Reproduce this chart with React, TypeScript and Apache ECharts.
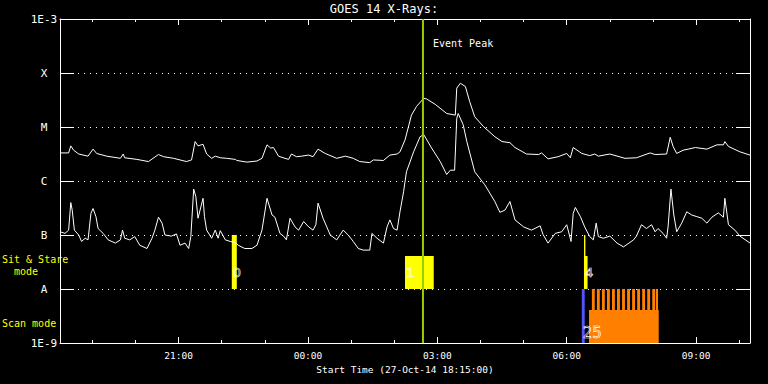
import React, { useEffect, useRef } from 'react';
import * as echarts from 'echarts';

// ---- texts ----
const TITLE = 'GOES 14 X-Rays:';
const X_NAME = 'Start Time (27-Oct-14 18:15:00)';
const EVENT_TEXT = 'Event Peak';
const SIT_STARE_TEXT = 'Sit & Stare\n  mode';
const SCAN_TEXT = 'Scan mode';

// ---- axes (x: minutes since 27-Oct-14 18:15:00, y: log10 flux) ----
const X_MIN = 0;
const X_MAX = 960;
const hourTickValues = [45, 105, 165, 225, 285, 345, 405, 465, 525, 585, 645, 705, 765, 825, 885, 945];
const xLabelValues = [165, 345, 525, 705, 885];
const xTickLabels = ['21:00', '00:00', '03:00', '06:00', '09:00'];
const yTickValues = [-9, -8, -7, -6, -5, -4, -3];
const yTickLabels = ['1E-9', 'A', 'B', 'C', 'M', 'X', '1E-3'];

// ---- GOES X-ray channels: [minutes, log10 flux] ----
const longChannel = [
  [0, -5.48], [12, -5.48], [15, -5.35], [19, -5.43], [26, -5.5], [39, -5.54], [46, -5.41], [51, -5.49],
  [65, -5.54], [84, -5.58], [88, -5.5], [90, -5.57], [107, -5.6], [123, -5.64], [137, -5.51], [144, -5.55],
  [158, -5.58], [176, -5.64], [183, -5.61], [188, -5.27], [192, -5.35], [199, -5.32], [204, -5.5], [211, -5.58],
  [216, -5.54], [223, -5.57], [232, -5.58], [244, -5.6], [246, -5.62], [260, -5.65], [274, -5.63], [281, -5.58],
  [288, -5.33], [293, -5.39], [297, -5.38], [304, -5.54], [313, -5.58], [318, -5.6], [322, -5.5], [329, -5.55],
  [336, -5.54], [346, -5.52], [352, -5.55], [359, -5.41], [369, -5.49], [385, -5.58], [397, -5.54], [408, -5.58],
  [417, -5.64], [431, -5.66], [436, -5.61], [450, -5.62], [459, -5.52], [469, -5.5], [473, -5.46], [480, -5.24],
  [489, -4.78], [496, -4.62], [506, -4.47], [510, -4.48], [522, -4.58], [538, -4.75], [550, -4.78], [552, -4.28],
  [557, -4.19], [564, -4.25], [570, -4.53], [577, -4.81], [589, -4.99], [605, -5.18], [615, -5.27], [626, -5.29],
  [633, -5.38], [649, -5.5], [666, -5.51], [670, -5.48], [679, -5.59], [693, -5.55], [705, -5.49], [710, -5.57],
  [714, -5.38], [726, -5.49], [737, -5.53], [744, -5.5], [749, -5.54], [765, -5.5], [786, -5.58], [802, -5.57],
  [821, -5.48], [828, -5.51], [844, -5.5], [849, -5.19], [853, -5.36], [858, -5.49], [867, -5.43], [884, -5.38],
  [900, -5.41], [914, -5.33], [923, -5.33], [925, -5.27], [930, -5.36], [946, -5.46], [960, -5.52],
];

const shortChannel = [
  [0, -6.94], [7, -6.97], [12, -6.91], [15, -6.4], [17, -6.54], [20, -6.91], [26, -7.0], [30, -7.12],
  [35, -7.06], [39, -7.09], [43, -6.6], [46, -6.51], [50, -6.66], [53, -6.88], [60, -6.97], [67, -7.09],
  [77, -7.15], [84, -7.09], [87, -6.91], [90, -7.06], [97, -7.09], [104, -7.03], [111, -7.19], [121, -7.25],
  [128, -7.06], [132, -6.91], [137, -6.67], [142, -6.78], [146, -7.0], [155, -7.02], [162, -6.98], [167, -7.19],
  [174, -7.15], [179, -7.25], [182, -7.03], [186, -6.15], [189, -6.29], [192, -6.69], [199, -6.32], [201, -6.66],
  [204, -6.91], [211, -7.06], [216, -6.91], [220, -7.06], [223, -6.92], [230, -7.09], [237, -7.12], [244, -7.14],
  [248, -7.19], [257, -7.25], [267, -7.25], [274, -7.19], [281, -6.91], [288, -6.32], [295, -6.63], [299, -6.67],
  [306, -6.97], [311, -7.02], [315, -7.09], [320, -6.69], [327, -6.85], [332, -6.91], [339, -6.75], [346, -6.85],
  [352, -6.91], [356, -6.81], [359, -6.41], [366, -6.69], [376, -7.0], [385, -7.09], [394, -6.91], [401, -7.0],
  [408, -7.12], [415, -7.25], [422, -7.28], [431, -7.28], [434, -6.97], [441, -7.06], [450, -7.15], [455, -6.85],
  [459, -6.72], [464, -6.88], [469, -6.91], [473, -6.57], [478, -6.2], [482, -5.83], [492, -5.46], [501, -5.18],
  [506, -5.14], [517, -5.39], [529, -5.64], [538, -5.88], [543, -5.8], [549, -5.8], [552, -4.84], [554, -4.75],
  [561, -4.96], [566, -5.27], [577, -5.83], [591, -6.07], [605, -6.38], [612, -6.58], [619, -6.54], [626, -6.38],
  [633, -6.72], [645, -6.85], [656, -6.91], [668, -6.83], [672, -6.99], [679, -7.15], [689, -6.97], [698, -6.94],
  [705, -6.81], [711, -7.12], [714, -6.6], [717, -6.49], [724, -6.66], [730, -6.85], [737, -7.03], [742, -7.09],
  [746, -6.78], [749, -7.03], [756, -7.06], [765, -7.02], [775, -7.15], [784, -7.22], [798, -7.09], [802, -7.02],
  [809, -6.81], [816, -6.88], [823, -6.81], [828, -6.94], [832, -6.88], [839, -6.97], [844, -7.06], [846, -6.85],
  [850, -6.15], [854, -6.63], [858, -6.94], [865, -6.78], [872, -6.57], [879, -6.63], [886, -6.66], [893, -6.69],
  [900, -6.78], [907, -6.67], [916, -6.59], [923, -6.67], [925, -6.32], [930, -6.81], [939, -6.91], [946, -7.02],
  [960, -7.15],
];

// ---- event peak ----
const eventPeakTime = 505;

// ---- Sit & Stare observations (band between A and B) ----
const SIT_STARE_BASE = -8;
const sitStareStart = [239, 480, 729, 729];
const sitStareEnd = [246, 520, 734, 731];
const sitStareTop = [-7, -7.39, -7.39, -7];
const sitStareId = ['0', '1', '4', ''];

// ---- Scan mode observations (band between 1E-9 and A) ----
const SCAN_BASE = -9;
const scanStart = [726];
const scanEnd = [730];
const scanTop = [-8];
const scanId = ['25'];
const scanFrameStart = [736, 740, 747, 754, 761, 768, 775, 782, 789, 796, 803, 810, 817, 824, 829];
const scanFrameEnd = [833, 744, 751, 758, 765, 772, 779, 786, 793, 800, 807, 814, 821, 828, 832];
const scanFrameTop = [-8.39, -8, -8, -8, -8, -8, -8, -8, -8, -8, -8, -8, -8, -8, -8];

const FONT = 'DejaVu Sans Mono';
const WHITE = '#ffffff';
const YELLOW = '#ffff00';
const ORANGE = '#ff8000';
const BLUE = '#5555ff';
const GREEN = '#99cc00';

function rectSeries(name: string, start: number[], end: number[], base: number, top: number[], color: string, ids: string[] | null, labelOffset: number) {
  const data = start.map((s, i) => [s, end[i], base, top[i]]);
  return {
    name,
    type: 'custom',
    z: 2,
    encode: { x: [0, 1], y: [2, 3] },
    data,
    renderItem: (params: any, api: any) => {
      const p0 = api.coord([api.value(0), api.value(2)]);
      const p1 = api.coord([api.value(1), api.value(3)]);
      const children: any[] = [
        {
          type: 'rect',
          shape: { x: p0[0], y: p1[1], width: Math.max(1, p1[0] - p0[0]), height: p0[1] - p1[1] },
          style: { fill: color },
        },
      ];
      const label = ids ? ids[params.dataIndex] : '';
      if (label) {
        children.push({
          type: 'text',
          z2: 10,
          style: {
            text: label,
            x: p0[0] + 1,
            y: p0[1] - labelOffset,
            verticalAlign: 'middle',
            align: 'left',
            font: `${label.length > 1 ? 15 : 13}px DejaVu Sans`,
            fill: 'rgba(0,0,0,0)',
            stroke: WHITE,
            lineWidth: 0.6,
          },
        });
      }
      return { type: 'group', children };
    },
  };
}

export default function App() {
  const ref = useRef<HTMLDivElement>(null);
  useEffect(() => {
    if (!ref.current) return;
    const chart = echarts.init(ref.current, null, { renderer: 'svg' });
    const baseX = {
      type: 'value',
      min: X_MIN,
      max: X_MAX,
      splitLine: { show: false },
      axisLabel: { show: false },
    };
    const option: any = {
      animation: false,
      backgroundColor: '#000000',
      title: {
        text: TITLE,
        left: 'center',
        top: 3,
        padding: 0,
        textStyle: { color: WHITE, fontSize: 12, fontWeight: 'normal', fontFamily: FONT },
      },
      grid: { left: 60, right: 18, top: 19, bottom: 41 },
      xAxis: [
        {
          ...baseX,
          position: 'bottom',
          axisLine: { show: true, onZero: false, lineStyle: { color: WHITE, width: 1 } },
          axisTick: { show: true, inside: true, length: 3, customValues: hourTickValues, lineStyle: { color: WHITE } },
          axisLabel: {
            show: true,
            customValues: xLabelValues,
            formatter: (v: number) => xTickLabels[xLabelValues.indexOf(v)] ?? '',
            color: WHITE,
            fontFamily: FONT,
            fontSize: 9.5,
            margin: 7,
          },
          name: X_NAME,
          nameLocation: 'middle',
          nameGap: 20,
          nameTextStyle: { color: WHITE, fontFamily: FONT, fontSize: 9.5 },
        },
        {
          ...baseX,
          position: 'bottom',
          axisLine: { show: false, onZero: false },
          axisTick: { show: true, inside: true, length: 6, customValues: xLabelValues, lineStyle: { color: WHITE } },
        },
        {
          ...baseX,
          position: 'top',
          axisLine: { show: true, onZero: false, lineStyle: { color: WHITE, width: 1 } },
          axisTick: { show: true, inside: true, length: 3, customValues: hourTickValues, lineStyle: { color: WHITE } },
        },
        {
          ...baseX,
          position: 'top',
          axisLine: { show: false, onZero: false },
          axisTick: { show: true, inside: true, length: 6, customValues: xLabelValues, lineStyle: { color: WHITE } },
        },
      ],
      yAxis: [
        {
          type: 'value',
          min: -9,
          max: -3,
          interval: 1,
          position: 'left',
          axisLine: { show: true, onZero: false, lineStyle: { color: WHITE, width: 1 } },
          axisTick: { show: true, inside: true, length: 14, lineStyle: { color: WHITE } },
          axisLabel: {
            formatter: (v: number) => yTickLabels[yTickValues.indexOf(v)] ?? '',
            color: WHITE,
            fontFamily: FONT,
            fontSize: 11,
            align: 'center',
            margin: 16,
          },
          splitLine: { show: true, lineStyle: { color: WHITE, width: 1, type: [1, 5] } },
        },
        {
          type: 'value',
          min: -9,
          max: -3,
          interval: 1,
          position: 'right',
          axisLine: { show: true, onZero: false, lineStyle: { color: WHITE, width: 1 } },
          axisTick: { show: true, inside: true, length: 14, lineStyle: { color: WHITE } },
          axisLabel: { show: false },
          splitLine: { show: false },
        },
      ],
      graphic: [
        {
          type: 'text',
          style: { text: SIT_STARE_TEXT, x: 2, y: 253, verticalAlign: 'top', fill: YELLOW, font: `10px ${FONT}`, lineHeight: 12 },
        },
        {
          type: 'text',
          style: { text: SCAN_TEXT, x: 2, y: 318, verticalAlign: 'top', fill: YELLOW, font: `10px ${FONT}` },
        },
      ],
      series: [
        rectSeries('sitStare', sitStareStart, sitStareEnd, SIT_STARE_BASE, sitStareTop, YELLOW, sitStareId, 17),
        rectSeries('scanFrames', scanFrameStart, scanFrameEnd, SCAN_BASE, scanFrameTop, ORANGE, null, 0),
        rectSeries('scan', scanStart, scanEnd, SCAN_BASE, scanTop, BLUE, scanId, 10),
        {
          name: 'long',
          type: 'line',
          z: 3,
          data: longChannel,
          showSymbol: false,
          symbol: 'none',
          lineStyle: { color: WHITE, width: 1 },
        },
        {
          name: 'short',
          type: 'line',
          z: 3,
          data: shortChannel,
          showSymbol: false,
          symbol: 'none',
          lineStyle: { color: WHITE, width: 1 },
        },
        {
          name: 'event',
          type: 'custom',
          z: 4,
          data: [[eventPeakTime]],
          encode: { x: 0 },
          renderItem: (params: any, api: any) => {
            const top = api.coord([api.value(0), -3]);
            const bottom = api.coord([api.value(0), -9]);
            return {
              type: 'group',
              children: [
                { type: 'line', shape: { x1: top[0], y1: top[1], x2: bottom[0], y2: bottom[1] }, style: { stroke: GREEN, lineWidth: 2 } },
                {
                  type: 'text',
                  style: { text: EVENT_TEXT, x: top[0] + 10, y: top[1] + 24, verticalAlign: 'middle', fill: WHITE, font: `10px ${FONT}` },
                },
              ],
            };
          },
        },
      ],
    };
    chart.setOption(option);
    return () => chart.dispose();
  }, []);
  return <div ref={ref} style={{ position: 'fixed', left: 0, top: 0, width: 768, height: 384, background: '#000' }} />;
}
